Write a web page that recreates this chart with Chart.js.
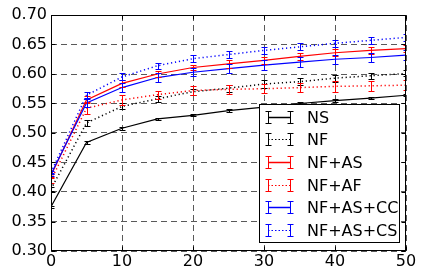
<!DOCTYPE html>
<html>
<head>
<meta charset="utf-8">
<script src="https://cdn.jsdelivr.net/npm/chart.js@4"></script>
<style>
  html, body { margin: 0; padding: 0; background: #fff; }
  #wrap { width: 424px; height: 280px; }
</style>
</head>
<body>
<div id="wrap"><canvas id="chart" width="424" height="280"></canvas></div>
<script>
// x positions (iterations)
const xs = [0, 5, 10, 15, 20, 25, 30, 35, 40, 45, 50];

const labels = ['NS', 'NF', 'NF+AS', 'NF+AF', 'NF+AS+CC', 'NF+AS+CS'];

// means
const ns     = [0.375, 0.484, 0.508, 0.524, 0.530, 0.538, 0.544, 0.550, 0.555, 0.559, 0.564];
const nf     = [0.405, 0.517, 0.545, 0.558, 0.570, 0.576, 0.583, 0.587, 0.593, 0.597, 0.601];
const nfAs   = [0.428, 0.556, 0.584, 0.600, 0.611, 0.617, 0.623, 0.630, 0.636, 0.640, 0.643];
const nfAf   = [0.420, 0.542, 0.556, 0.565, 0.572, 0.574, 0.575, 0.577, 0.579, 0.580, 0.581];
const nfAsCc = [0.430, 0.551, 0.577, 0.594, 0.603, 0.609, 0.615, 0.620, 0.625, 0.628, 0.632];
const nfAsCs = [0.433, 0.564, 0.595, 0.614, 0.626, 0.633, 0.640, 0.646, 0.652, 0.657, 0.662];

// error bar half-lengths
const nsErr     = [0.002, 0.003, 0.003, 0.002, 0.002, 0.002, 0.002, 0.002, 0.002, 0.002, 0.002];
const nfErr     = [0.003, 0.005, 0.005, 0.005, 0.005, 0.006, 0.006, 0.006, 0.006, 0.005, 0.005];
const nfAsErr   = [0.003, 0.006, 0.006, 0.005, 0.005, 0.006, 0.006, 0.006, 0.006, 0.006, 0.006];
const nfAfErr   = [0.004, 0.010, 0.009, 0.007, 0.008, 0.008, 0.008, 0.008, 0.009, 0.008, 0.008];
const nfAsCcErr = [0.003, 0.007, 0.008, 0.007, 0.007, 0.008, 0.008, 0.008, 0.008, 0.008, 0.008];
const nfAsCsErr = [0.003, 0.005, 0.006, 0.005, 0.006, 0.006, 0.006, 0.006, 0.006, 0.006, 0.006];

const yTicks = [0.30, 0.35, 0.40, 0.45, 0.50, 0.55, 0.60, 0.65, 0.70];
const xTicks = [0, 10, 20, 30, 40, 50];

const series = [
  { label: labels[0], y: ns,     err: nsErr,     color: '#000000', dotted: false },
  { label: labels[1], y: nf,     err: nfErr,     color: '#000000', dotted: true },
  { label: labels[2], y: nfAs,   err: nfAsErr,   color: '#ff0000', dotted: false },
  { label: labels[3], y: nfAf,   err: nfAfErr,   color: '#ff0000', dotted: true },
  { label: labels[4], y: nfAsCc, err: nfAsCcErr, color: '#0000ff', dotted: false },
  { label: labels[5], y: nfAsCs, err: nfAsCsErr, color: '#0000ff', dotted: true },
];

const DOT = [1.2, 2.8];
const FONT = '16px "DejaVu Sans"';

const datasets = series.map((s, i) => ({
  label: s.label,
  data: xs.map((x, j) => ({ x: x, y: s.y[j] })),
  borderColor: s.color,
  borderWidth: s.dotted ? 1.5 : 1.2,
  borderDash: s.dotted ? DOT : [],
  pointRadius: 0,
  fill: false,
  tension: 0,
  order: series.length - i,
  errs: s.err,
}));

function drawErrorBar(ctx, x, y0, y1, color) {
  ctx.save();
  ctx.strokeStyle = color;
  ctx.lineWidth = 1;
  ctx.setLineDash([]);
  ctx.beginPath();
  ctx.moveTo(x, y0); ctx.lineTo(x, y1);
  ctx.moveTo(x - 3, y0); ctx.lineTo(x + 3, y0);
  ctx.moveTo(x - 3, y1); ctx.lineTo(x + 3, y1);
  ctx.stroke();
  ctx.restore();
}

// error bars on top of the lines
const errorBars = {
  id: 'errorBars',
  afterDatasetsDraw(chart) {
    const ctx = chart.ctx;
    const xScale = chart.scales.x, yScale = chart.scales.y;
    const a = chart.chartArea;
    ctx.save();
    ctx.beginPath();
    ctx.rect(a.left, a.top, a.right - a.left, a.bottom - a.top);
    ctx.clip();
    chart.data.datasets.forEach(ds => {
      ds.data.forEach((p, j) => {
        const px = Math.round(xScale.getPixelForValue(p.x)) + 0.5;
        const lo = yScale.getPixelForValue(p.y - ds.errs[j]);
        const hi = yScale.getPixelForValue(p.y + ds.errs[j]);
        drawErrorBar(ctx, px, Math.round(lo) + 0.5, Math.round(hi) + 0.5, ds.borderColor);
      });
    });
    ctx.restore();
  }
};

// axes frame, inward ticks, legend box
const frame = {
  id: 'frame',
  afterDraw(chart) {
    const ctx = chart.ctx;
    const a = chart.chartArea;
    const xScale = chart.scales.x, yScale = chart.scales.y;
    ctx.save();
    ctx.strokeStyle = '#000';
    ctx.lineWidth = 1;
    ctx.setLineDash([]);
    const L = Math.round(a.left) + 0.5, R = Math.round(a.right) - 0.5;
    const T = Math.round(a.top) + 0.5, B = Math.round(a.bottom) - 0.5;
    ctx.strokeRect(L, T, R - L, B - T);
    ctx.beginPath();
    xTicks.forEach(v => {
      const px = Math.round(xScale.getPixelForValue(v)) + 0.5;
      ctx.moveTo(px, B); ctx.lineTo(px, B - 4);
      ctx.moveTo(px, T); ctx.lineTo(px, T + 4);
    });
    yTicks.forEach(v => {
      const py = Math.round(yScale.getPixelForValue(v)) + 0.5;
      ctx.moveTo(L, py); ctx.lineTo(L + 4, py);
      ctx.moveTo(R, py); ctx.lineTo(R - 4, py);
    });
    ctx.stroke();

    // legend
    const bx = 259.5, by = 104.5, bw = 140, bh = 138;
    ctx.fillStyle = '#fff';
    ctx.fillRect(bx, by, bw, bh);
    ctx.strokeRect(bx, by, bw, bh);
    ctx.font = FONT;
    ctx.textBaseline = 'middle';
    ctx.textAlign = 'left';
    series.forEach((s, i) => {
      const ry = Math.round(116.5 + i * 22.7) + 0.5;
      ctx.save();
      ctx.strokeStyle = s.color;
      ctx.lineWidth = s.dotted ? 1.2 : 1.5;
      ctx.setLineDash(s.dotted ? [1.5, 2] : []);
      ctx.beginPath();
      ctx.moveTo(268, ry); ctx.lineTo(290, ry);
      ctx.stroke();
      ctx.restore();
      drawErrorBar(ctx, 268.5, ry - 6, ry + 6, s.color);
      drawErrorBar(ctx, 290.5, ry - 6, ry + 6, s.color);
      ctx.fillStyle = '#000';
      ctx.fillText(s.label, 307, ry + 1);
    });
    ctx.restore();
  }
};

const ctx = document.getElementById('chart').getContext('2d');
new Chart(ctx, {
  type: 'line',
  data: { datasets: datasets },
  options: {
    responsive: false,
    animation: false,
    events: [],
    layout: { padding: { top: 15, right: 18, left: 0, bottom: 0 } },
    plugins: { legend: { display: false }, tooltip: { enabled: false } },
    scales: {
      x: {
        type: 'linear',
        min: 0, max: 50,
        afterFit: s => { s.height = 29; },
        afterBuildTicks: s => { s.ticks = xTicks.map(v => ({ value: v })); },
        ticks: { color: '#000', font: { family: 'DejaVu Sans', size: 16 }, padding: 1, maxRotation: 0 },
        grid: { color: 'rgba(0,0,0,0.65)', lineWidth: 1, drawTicks: false },
        border: { display: false, dash: [6, 4] },
      },
      y: {
        min: 0.30, max: 0.70,
        afterFit: s => { s.width = 51; },
        afterBuildTicks: s => { s.ticks = yTicks.map(v => ({ value: v })); },
        ticks: {
          color: '#000', font: { family: 'DejaVu Sans', size: 16 }, padding: 4,
          callback: v => v.toFixed(2),
        },
        grid: { color: 'rgba(0,0,0,0.65)', lineWidth: 1, drawTicks: false },
        border: { display: false, dash: [6, 4] },
      },
    },
  },
  plugins: [errorBars, frame],
});
</script>
</body>
</html>
